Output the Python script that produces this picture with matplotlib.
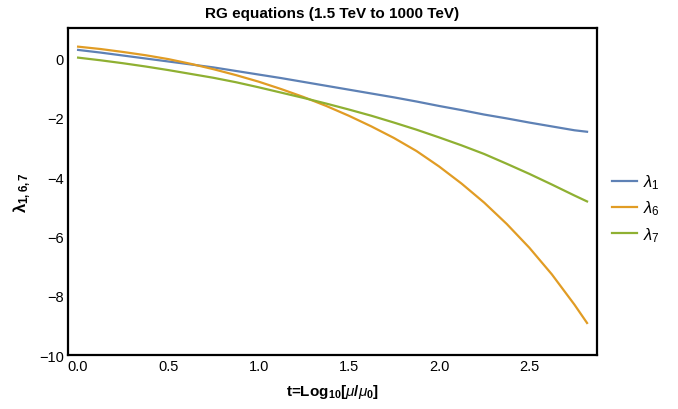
import matplotlib
matplotlib.use("Agg")
import matplotlib.pyplot as plt

plt.rcParams['font.family'] = ['Liberation Sans', 'DejaVu Sans']
plt.rcParams['mathtext.fontset'] = 'custom'
plt.rcParams['mathtext.rm'] = 'Liberation Sans'
plt.rcParams['mathtext.it'] = 'Liberation Sans:italic'
plt.rcParams['mathtext.bf'] = 'Liberation Sans:bold'

# t = log10(mu/mu0)
t = [0.0, 0.125, 0.25, 0.375, 0.5, 0.625, 0.75, 0.875, 1.0, 1.125, 1.25, 1.375,
     1.5, 1.625, 1.75, 1.875, 2.0, 2.125, 2.25, 2.375, 2.5, 2.625, 2.75, 2.82]
lam1 = [0.29, 0.20, 0.10, 0.00, -0.10, -0.20, -0.30, -0.42, -0.54, -0.66, -0.79, -0.92,
        -1.05, -1.18, -1.31, -1.45, -1.60, -1.74, -1.89, -2.02, -2.16, -2.29, -2.42, -2.47]
lam6 = [0.40, 0.32, 0.22, 0.11, -0.02, -0.18, -0.36, -0.56, -0.78, -1.03, -1.30, -1.60,
        -1.93, -2.29, -2.68, -3.12, -3.64, -4.22, -4.86, -5.58, -6.38, -7.28, -8.30, -8.92]
lam7 = [0.03, -0.06, -0.16, -0.27, -0.39, -0.52, -0.65, -0.80, -0.97, -1.15, -1.33, -1.52,
        -1.72, -1.93, -2.16, -2.40, -2.66, -2.93, -3.22, -3.55, -3.89, -4.25, -4.62, -4.82]

series = [(lam1, r'$\lambda_1$', '#5E81B5'),
          (lam6, r'$\lambda_6$', '#E19C24'),
          (lam7, r'$\lambda_7$', '#8FB032')]

fig = plt.figure(figsize=(6.78, 4.10), dpi=100)
ax = fig.add_axes([0.1003, 0.1317, 0.7802, 0.7976])

for vals, lab, col in series:
    ax.plot(t, vals, color=col, lw=1.6, label=lab, solid_joinstyle='round')

ax.set_xlim(-0.056, 2.875)
ax.set_ylim(-10, 1.03)
ax.set_xticks([0.0, 0.5, 1.0, 1.5, 2.0, 2.5])
ax.set_yticks([0, -2, -4, -6, -8, -10])
ax.tick_params(length=0, labelsize=10.5, pad=3)
for s in ax.spines.values():
    s.set_linewidth(1.6)
    s.set_color('black')

ax.set_title('RG equations (1.5 TeV to 1000 TeV)', fontsize=11, fontweight='bold', pad=8)
ax.set_xlabel(r't=Log$_{\mathbf{10}}$[$\mu$/$\mu_{\mathbf{0}}$]', fontsize=11, fontweight='bold', labelpad=6)
ax.set_ylabel(r'$\mathbf{\lambda}_{\mathbf{1,6,7}}$', fontsize=12, labelpad=4)

fig.legend(loc='center left', bbox_to_anchor=(0.88, 0.49), frameon=False,
           fontsize=12, handlelength=1.5, handletextpad=0.4, labelspacing=0.45)

fig.savefig('out.png', dpi=100)
